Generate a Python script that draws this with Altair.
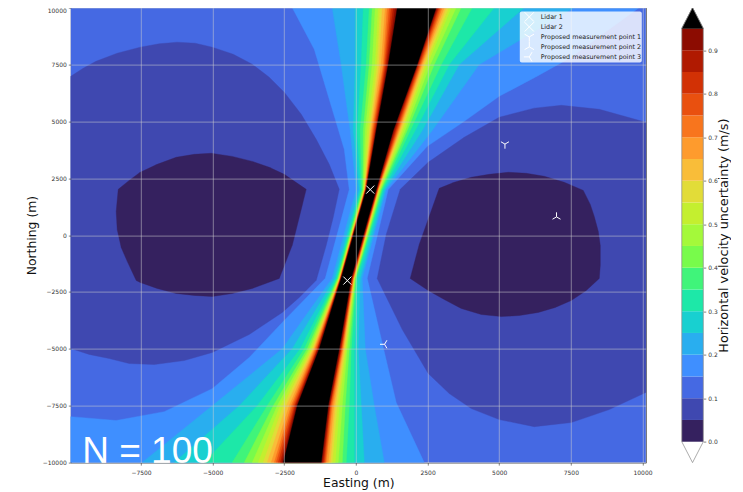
import altair as alt
import pandas as pd

FONT = "DejaVu Sans"
X_DOMAIN = [-9950, 10115]
Y_DOMAIN = [-10000, 10000]
X_TICKS = [-7500, -5000, -2500, 0, 2500, 5000, 7500, 10000]
Y_TICKS = [-10000, -7500, -5000, -2500, 0, 2500, 5000, 7500, 10000]

LEVELS = [0, .05, .1, .15, .2, .25, .3, .35, .4, .45, .5, .55, .6, .65, .7, .75, .8, .85, .9, .95]
BAND_COLORS = ["#35215f", "#3f48b0", "#4569e3", "#3f8fff", "#29aeef", "#18d0d0", "#1de8a8", "#40f47a",
               "#78fb4b", "#a4f93a", "#c4ef2f", "#e2dc38", "#f9bd39", "#fe9b2d", "#f8751d", "#e9500f",
               "#d23105", "#b01a01", "#8c0c01"]
OVER_COLOR = "#000000"
TICKS_CB = [0, .1, .2, .3, .4, .5, .6, .7, .8, .9]

ROW_N = [10000, 7500, 4600, 2000, -1900, -5000, -7500, -10000]
# western / eastern edge of each uncertainty level (0.20 ... 0.95), one list per northing row
W_10000 = [-827, -24, 255, 464, 568, 673, 778, 848, 918, 1022, 1092, 1162, 1232, 1302, 1372, 1441]
W_7500 = [-513, -24, 185, 359, 464, 568, 673, 743, 813, 883, 953, 988, 1022, 1057, 1092, 1127]
W_4600 = [-199, -94, 45, 150, 255, 325, 394, 464, 499, 534, 568, 603, 638, 673, 691, 708]
W_2000 = [10, 115, 168, 202, 237, 255, 272, 290, 300, 311, 321, 332, 339, 345, 352, 359]
W_m1900 = [-827, -740, -688, -653, -628, -611, -593, -579, -569, -558, -548, -541, -534, -527, -520, -513]
W_m5000 = [-2572, -2223, -1944, -1804, -1700, -1630, -1577, -1525, -1490, -1455, -1420, -1385, -1351, -1333, -1316, -1281]
W_m7500 = [-5015, -4073, -3445, -3096, -2886, -2747, -2642, -2537, -2433, -2328, -2258, -2206, -2153, -2118, -2083, -2049]
W_m10000 = [-7458, -6341, -5294, -4317, -3898, -3619, -3410, -3235, -3096, -2956, -2851, -2782, -2712, -2642, -2590, -2537]
E_10000 = [7619, 5874, 4827, 4059, 3675, 3500, 3326, 3239, 3151, 3082, 3012, 2960, 2907, 2872, 2837, 2802]
E_7500 = [4303, 3605, 3256, 2977, 2733, 2593, 2488, 2419, 2366, 2314, 2279, 2244, 2209, 2174, 2157, 2139]
E_4600 = [2663, 2314, 2070, 1895, 1790, 1721, 1651, 1598, 1546, 1511, 1476, 1441, 1406, 1372, 1337, 1302]
E_2000 = [1057, 1005, 953, 918, 883, 855, 834, 813, 792, 778, 764, 754, 743, 733, 722, 708]
E_m1900 = [220, 150, 63, 10, -14, -31, -45, -59, -73, -84, -94, -108, -119, -129, -147, -164]
E_m5000 = [325, 80, -59, -164, -234, -304, -339, -373, -408, -443, -464, -489, -513, -530, -548, -583]
E_m7500 = [639, 185, -59, -234, -373, -478, -583, -653, -722, -775, -827, -862, -897, -914, -932, -967]
E_m10000 = [988, 290, -59, -339, -478, -618, -722, -827, -897, -967, -1037, -1071, -1106, -1141, -1176, -1211]
WEST = [W_10000, W_7500, W_4600, W_2000, W_m1900, W_m5000, W_m7500, W_m10000]
EAST = [E_10000, E_7500, E_4600, E_2000, E_m1900, E_m5000, E_m7500, E_m10000]

L015_E = [-2223, -1455, -827, -408, -234, -1071, -2572, -3724, -5015, -6690, -8366, -9950, -9950, 2384, 1406, 953, 394, 1127, 2488, 3780, 5001, 6258, 7514, 8700, 9887]
L015_N = [10000, 8170, 5530, 3770, 2000, -1900, -3840, -5380, -6750, -7760, -8150, -7980, -10000, -10000, -7360, -4940, -1900, 2000, 3900, 5000, 6100, 6940, 7820, 8920, 10000]

B1L_E = [-9950, -9517, -9070, -8331, -7528, -6865, -6237, -5608, -5015, -4282, -3619, -3026, -2502, -1909, -1386, -932, -583, -792, -1037, -1386, -1979, -2572, -3724, -5015, -5992, -7039, -7912, -8610, -9308, -9950]
B1L_N = [6980, 7335, 7640, 7995, 8260, 8410, 8480, 8435, 8260, 7950, 7510, 6940, 6280, 5310, 4210, 3110, 2010, 780, -450, -1990, -2740, -3400, -4370, -5160, -5515, -5690, -5645, -5425, -5245, -4985]
B1R_E = [1546, 1057, 743, 1616, 2523, 3256, 4024, 5001, 6223, 7514, 8841, 10115, 10115, 8491, 7165, 6223, 5001, 3780, 2523]
B1R_N = [2010, 30, -1905, -4150, -6085, -6965, -7625, -8110, -8420, -8240, -7670, -6920, 4960, 5530, 5705, 5580, 5180, 4300, 3200]
B0L_E = [-8295, -7912, -7528, -6935, -6272, -5643, -5050, -4317, -3619, -3026, -2502, -1735, -2223, -2677, -3619, -4317, -5015, -5643, -6272, -6935, -7528, -7667, -7981, -8191, -8331, -8366]
B0L_N = [2010, 2405, 2760, 3110, 3420, 3550, 3595, 3460, 3240, 2980, 2670, 2010, -450, -1905, -2345, -2565, -2700, -2650, -2565, -2345, -2080, -1995, -1155, -540, 250, 1040]
B0R_E = [2907, 3431, 4024, 4652, 5315, 5943, 6572, 7270, 7933, 8177, 8317, 8456, 8526, 8526, 8491, 8037, 7514, 6955, 6362, 5699, 5071, 4373, 3675, 3082, 2523, 1895, 2209]
B0R_N = [2055, 2320, 2540, 2670, 2760, 2715, 2585, 2320, 1965, 1350, 820, 165, -450, -1335, -1905, -2435, -2875, -3180, -3400, -3535, -3580, -3490, -3225, -2830, -2435, -1905, -410]

MARK_NAMES = ["Lidar 1", "Lidar 2", "Proposed measurement point 1", "Proposed measurement point 2", "Proposed measurement point 3"]
MARK_E = [500, -300, 5200, 7000, 1000]
MARK_N = [2000, -2000, 4000, 800, -4800]
MARK_SHAPES = ["M-1,-1L1,1M-1,1L1,-1", "M-1,-1L1,1M-1,1L1,-1",
               "M0,0L0,1.15M0,0L-1,-.58M0,0L1,-.58",
               "M0,0L0,-1.15M0,0L-1,.58M0,0L1,.58",
               "M0,0L-1.15,0M0,0L.58,-1M0,0L.58,1"]

xs = alt.Scale(domain=X_DOMAIN, nice=False, zero=False)
ys = alt.Scale(domain=Y_DOMAIN, nice=False, zero=False)

axis_style = dict(grid=True, zindex=1, domain=False, gridColor="#d0d0d0", gridOpacity=0.52, gridWidth=1,
                  tickSize=2.5, tickWidth=0.6, tickColor="#333", labelFontSize=6, labelColor="#333",
                  titleFontSize=12.4, titleFont=FONT, labelFont=FONT,
                  titleFontWeight="normal", titleColor="#111", labelOverlap=False, format="d")
x_axis = alt.Axis(values=X_TICKS, title="Easting (m)", labelPadding=4, titlePadding=1, **axis_style)
y_axis = alt.Axis(values=Y_TICKS, title="Northing (m)", labelPadding=2, titlePadding=3.5,
                  labelBaseline={"condition": {"test": "datum.value === 10000", "value": "top"}, "value": "middle"},
                  **axis_style)
X_ENC = alt.X("e:Q", scale=xs, axis=x_axis)
Y_ENC = alt.Y("n:Q", scale=ys, axis=y_axis)


def poly(es, ns, color):
    df = pd.DataFrame({"e": list(es) + [es[0]], "n": list(ns) + [ns[0]], "i": range(len(es) + 1)})
    return alt.Chart(df).mark_line(fill=color, stroke=color, strokeWidth=0.4).encode(
        x=X_ENC, y=Y_ENC, order=alt.Order("i:Q"))


back = alt.Chart(pd.DataFrame({"e": [X_DOMAIN[0]], "e2": [X_DOMAIN[1]], "n": [Y_DOMAIN[0]], "n2": [Y_DOMAIN[1]]})).mark_rect(
    color=BAND_COLORS[2]).encode(x=X_ENC, x2="e2:Q", y=Y_ENC, y2="n2:Q")

layers = [back, poly(L015_E, L015_N, BAND_COLORS[3])]
for k in range(16):
    west = [row[k] for row in WEST]
    east = [row[k] for row in EAST]
    color = (BAND_COLORS + [OVER_COLOR])[k + 4]
    layers.append(poly(west + east[::-1], ROW_N + ROW_N[::-1], color))
layers += [poly(B1L_E, B1L_N, BAND_COLORS[1]), poly(B1R_E, B1R_N, BAND_COLORS[1]),
           poly(B0L_E, B0L_N, BAND_COLORS[0]), poly(B0R_E, B0R_N, BAND_COLORS[0])]

markers = alt.Chart(pd.DataFrame({"name": MARK_NAMES, "e": MARK_E, "n": MARK_N})).mark_point(
    filled=False, stroke="white", strokeWidth=1, size=64, opacity=1).encode(
    x=X_ENC, y=Y_ENC,
    shape=alt.Shape("name:N", sort=MARK_NAMES, scale=alt.Scale(domain=MARK_NAMES, range=MARK_SHAPES),
                    legend=alt.Legend(orient="none", legendX=449, legendY=4, title=None, padding=0.5,
                                      fillColor="rgba(255,255,255,0.8)", cornerRadius=2, labelFont=FONT,
                                      labelFontSize=6.4, labelColor="#222", labelLimit=200, labelOffset=6,
                                      symbolSize=90, symbolStrokeColor="white", symbolStrokeWidth=1,
                                      symbolOffset=3.5, symbolFillColor="transparent", rowPadding=0,
                                      clipHeight=9.6, zindex=2)),
)

note = alt.Chart(pd.DataFrame({"e": [-9550], "n": [-10000], "t": ["N = 100"]})).mark_text(
    font="Liberation Sans", fontSize=37, color="white", align="left", baseline="alphabetic").encode(
    x=X_ENC, y=Y_ENC, text="t:N")

main = alt.layer(*layers, markers, note).properties(width=575, height=455)

cb_y = alt.Scale(domain=[-0.048, 0.998], nice=False, zero=False)
cb_x = alt.Scale(domain=[0, 1], nice=False, zero=False)
cb_axis = alt.Axis(orient="right", values=TICKS_CB, format=".1f", title="Horizontal velocity uncertainty (m/s)",
                   grid=False, domain=False, tickSize=2.5, tickWidth=0.6, tickColor="#333", labelFontSize=6,
                   labelColor="#333", labelPadding=2, titleFontSize=12.8, titleFont=FONT, labelFont=FONT,
                   titleFontWeight="normal", titleColor="#111", titlePadding=13, titleAngle=270)
cb_df = pd.DataFrame({"lo": LEVELS[:-1], "hi": LEVELS[1:], "x0": 0, "x1": 1, "c": BAND_COLORS})
cb_bars = alt.Chart(cb_df).mark_rect().encode(
    x=alt.X("x0:Q", scale=cb_x, axis=None),
    x2="x1:Q",
    y=alt.Y("lo:Q", scale=cb_y, axis=cb_axis),
    y2="hi:Q",
    fill=alt.Fill("c:N", scale=None, legend=None),
)


def cb_poly(px, py, fill, stroke, sw):
    df = pd.DataFrame({"a": px, "b": py, "i": range(len(px))})
    kw = {"fill": fill} if fill else {}
    return alt.Chart(df).mark_line(stroke=stroke, strokeWidth=sw, **kw).encode(
        x=alt.X("a:Q", scale=cb_x, axis=None),
        y=alt.Y("b:Q", scale=cb_y, axis=cb_axis),
        order=alt.Order("i:Q"),
    )


CB_OUT_X = [0, .5, 1, 1, .5, 0, 0]
CB_OUT_Y = [0, -.048, 0, .95, .998, .95, 0]
colorbar = alt.layer(
    cb_bars,
    cb_poly([0, 1, .5, 0], [.95, .95, .998, .95], OVER_COLOR, OVER_COLOR, 0.4),
    cb_poly(CB_OUT_X, CB_OUT_Y, None, "#888888", 0.7),
).properties(width=21.5, height=455, view=alt.ViewBackground(stroke=None))

chart = alt.hconcat(main, colorbar, spacing=27).properties(
    padding={"left": 16.8, "top": -2.4, "right": 0, "bottom": 0}, background="white"
).configure_view(stroke="#555555", strokeWidth=1)

chart.save("out.html", embed_options={"renderer": "svg", "actions": False})
